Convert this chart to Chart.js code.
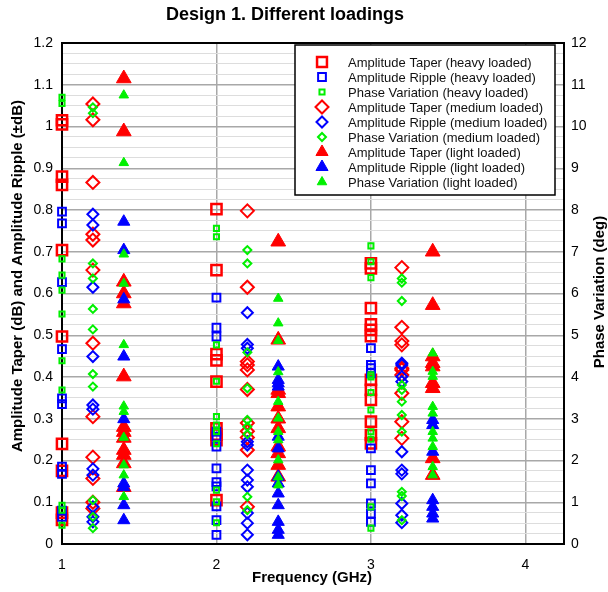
<!DOCTYPE html>
<html><head><meta charset="utf-8">
<script src="https://cdn.jsdelivr.net/npm/chart.js@4/dist/chart.umd.min.js"></script>
<style>html,body{margin:0;padding:0;background:#fff}#wrap{width:608px;height:592px}</style>
</head><body><div id="wrap"><canvas id="c" width="608" height="592"></canvas></div>
<script>
// Frequency positions (GHz) for each loading group
const freqHeavy = [1.0, 2.0, 3.0];
const freqMedium = [1.2, 2.2, 3.2];
const freqLight = [1.4, 2.4, 3.4];

// Values per frequency group: [1 GHz group, 2 GHz group, 3 GHz group]
const taperHeavy = [
  [1.015, 1.005, 0.88, 0.86, 0.704, 0.497, 0.24, 0.175, 0.075, 0.058],
  [0.802, 0.656, 0.455, 0.44, 0.389, 0.277, 0.262, 0.249, 0.105],
  [0.672, 0.66, 0.565, 0.526, 0.513, 0.498, 0.393, 0.369, 0.345, 0.293, 0.261, 0.241]
];
const rippleHeavy = [
  [0.796, 0.768, 0.627, 0.467, 0.349, 0.335, 0.185, 0.168, 0.08, 0.065],
  [0.59, 0.518, 0.497, 0.269, 0.257, 0.233, 0.181, 0.148, 0.138, 0.09, 0.057, 0.022],
  [0.469, 0.429, 0.421, 0.409, 0.229, 0.177, 0.145, 0.097, 0.073, 0.053]
];
const phaseHeavy = [
  [10.7, 10.55, 6.83, 6.44, 6.08, 5.51, 4.39, 3.69, 0.93, 0.81, 0.45],
  [7.56, 7.36, 4.77, 3.9, 3.05, 2.85, 2.69, 2.4, 1.29, 1.01, 0.51],
  [7.14, 6.76, 6.38, 4.05, 4.0, 3.63, 3.21, 2.69, 2.51, 0.89, 0.38]
];
const taperMedium = [
  [1.054, 1.016, 0.866, 0.742, 0.728, 0.656, 0.481, 0.305, 0.208, 0.157, 0.1, 0.085],
  [0.798, 0.615, 0.437, 0.429, 0.417, 0.37, 0.29, 0.27, 0.255, 0.225, 0.089],
  [0.662, 0.519, 0.486, 0.477, 0.421, 0.417, 0.405, 0.361, 0.293, 0.253]
];
const rippleMedium = [
  [0.79, 0.764, 0.615, 0.449, 0.333, 0.323, 0.18, 0.165, 0.089, 0.065, 0.053],
  [0.554, 0.478, 0.469, 0.245, 0.237, 0.177, 0.153, 0.137, 0.074, 0.05, 0.022],
  [0.433, 0.429, 0.401, 0.389, 0.221, 0.177, 0.168, 0.097, 0.069, 0.051]
];
const phaseMedium = [
  [10.46, 10.32, 6.72, 6.36, 5.63, 5.14, 4.07, 3.77, 1.05, 0.65, 0.38],
  [7.04, 6.72, 4.59, 3.73, 2.97, 2.81, 2.63, 1.13, 0.81],
  [6.36, 6.26, 5.82, 3.81, 3.69, 3.41, 3.09, 2.69, 1.25, 1.15, 0.57]
];
const taperLight = [
  [1.115, 0.988, 0.628, 0.6, 0.576, 0.401, 0.28, 0.268, 0.254, 0.225, 0.213, 0.193, 0.136],
  [0.724, 0.489, 0.369, 0.361, 0.329, 0.30, 0.277, 0.233, 0.217, 0.189, 0.161],
  [0.7, 0.572, 0.449, 0.433, 0.425, 0.385, 0.373, 0.205, 0.165]
];
const rippleLight = [
  [0.772, 0.704, 0.586, 0.449, 0.299, 0.145, 0.136, 0.093, 0.057],
  [0.425, 0.393, 0.385, 0.377, 0.257, 0.229, 0.161, 0.145, 0.121, 0.093, 0.053, 0.034, 0.022],
  [0.297, 0.285, 0.221, 0.105, 0.089, 0.073, 0.061]
];
const phaseLight = [
  [10.75, 9.13, 6.94, 6.24, 4.77, 3.3, 3.17, 2.55, 1.89, 1.65, 1.13],
  [5.88, 5.29, 4.87, 4.12, 3.41, 3.01, 2.69, 2.49, 2.01, 1.6, 1.41],
  [4.57, 4.13, 4.01, 3.29, 3.13, 2.69, 2.53, 2.33, 1.85, 1.65]
];

const seriesLabels = [
  'Amplitude Taper (heavy loaded)', 'Amplitude Ripple (heavy loaded)', 'Phase Variation (heavy loaded)',
  'Amplitude Taper (medium loaded)', 'Amplitude Ripple (medium loaded)', 'Phase Variation (medium loaded)',
  'Amplitude Taper (light loaded)', 'Amplitude Ripple (light loaded)', 'Phase Variation (light loaded)'
];

const RED = '#ff0000', BLUE = '#0000ff', GREEN = '#00f000';
const FONT = "'Liberation Sans', Arial, sans-serif";

function pts(freqs, groups) {
  const out = [];
  groups.forEach((g, i) => g.forEach(v => out.push({x: freqs[i], y: v})));
  return out;
}

const specs = [
  {data: pts(freqHeavy, taperHeavy), axis: 'y', color: RED, style: 'rect', r: 7.2, bw: 2.5, fill: false},
  {data: pts(freqHeavy, rippleHeavy), axis: 'y', color: BLUE, style: 'rect', r: 5.5, bw: 2, fill: false},
  {data: pts(freqHeavy, phaseHeavy), axis: 'y2', color: GREEN, style: 'rect', r: 3.6, bw: 2, fill: false},
  {data: pts(freqMedium, taperMedium), axis: 'y', color: RED, style: 'rectRot', r: 6.5, bw: 2, fill: false},
  {data: pts(freqMedium, rippleMedium), axis: 'y', color: BLUE, style: 'rectRot', r: 5.5, bw: 2, fill: false},
  {data: pts(freqMedium, phaseMedium), axis: 'y2', color: GREEN, style: 'rectRot', r: 4, bw: 2, fill: false},
  {data: pts(freqLight, taperLight), axis: 'y', color: RED, style: 'triangle', r: 8.5, bw: 1, fill: true},
  {data: pts(freqLight, rippleLight), axis: 'y', color: BLUE, style: 'triangle', r: 7, bw: 1, fill: true},
  {data: pts(freqLight, phaseLight), axis: 'y2', color: GREEN, style: 'triangle', r: 5.5, bw: 1, fill: true}
];

const datasets = specs.map((s, i) => ({
  label: seriesLabels[i],
  data: s.data,
  yAxisID: s.axis,
  pointStyle: s.style,
  pointRadius: s.r,
  pointHoverRadius: s.r,
  pointBorderWidth: s.bw,
  borderColor: s.color,
  backgroundColor: s.fill ? s.color : 'rgba(0,0,0,0)',
  order: 8 - i,
  clip: false
}));

function isMajor(v) { return Math.abs(v * 10 - Math.round(v * 10)) < 1e-6; }

const decor = {
  id: 'decor',
  beforeDatasetsDraw(chart) {
    const a = chart.chartArea, ctx = chart.ctx;
    ctx.save();
    ctx.strokeStyle = '#000';
    ctx.lineWidth = 2;
    ctx.strokeRect(a.left, a.top, a.right - a.left, a.bottom - a.top);
    ctx.restore();
  },
  afterDraw(chart) {
    const ctx = chart.ctx;
    ctx.save();
    ctx.fillStyle = '#000';
    ctx.font = 'bold 18px ' + FONT;
    ctx.textAlign = 'center';
    ctx.textBaseline = 'middle';
    ctx.fillText('Design 1. Different loadings', 285, 15);
    ctx.font = 'bold 15px ' + FONT;
    ctx.fillText('Frequency (GHz)', 312, 578);
    ctx.save();
    ctx.translate(18, 276);
    ctx.rotate(-Math.PI / 2);
    ctx.fillText('Amplitude Taper (dB) and Amplitude Ripple (\u00b1dB)', 0, 0);
    ctx.restore();
    ctx.save();
    ctx.translate(600, 292);
    ctx.rotate(-Math.PI / 2);
    ctx.fillText('Phase Variation (deg)', 0, 0);
    ctx.restore();
    // Legend
    const lx = 295, ly = 45, lw = 260, lh = 150;
    ctx.fillStyle = '#fff';
    ctx.fillRect(lx, ly, lw, lh);
    ctx.strokeStyle = '#000';
    ctx.lineWidth = 1.5;
    ctx.strokeRect(lx, ly, lw, lh);
    ctx.font = '13px ' + FONT;
    ctx.textAlign = 'left';
    ctx.textBaseline = 'middle';
    specs.forEach((s, i) => {
      const y = 62 + i * 15;
      const r = Math.min(s.r, 7);
      ctx.strokeStyle = s.color;
      ctx.fillStyle = s.fill ? s.color : 'rgba(0,0,0,0)';
      ctx.lineWidth = s.bw;
      Chart.helpers.drawPoint(ctx, {pointStyle: s.style, radius: r, rotation: 0, borderWidth: s.bw}, 322, y);
      ctx.fillStyle = '#111';
      ctx.fillText(seriesLabels[i], 348, y + 1);
    });
    ctx.restore();
  }
};

new Chart(document.getElementById('c'), {
  type: 'scatter',
  data: {datasets},
  options: {
    responsive: false,
    animation: false,
    events: [],
    layout: {padding: {top: 43, left: 0, right: 0, bottom: 0}},
    plugins: {legend: {display: false}, title: {display: false}, tooltip: {enabled: false}},
    scales: {
      x: {
        type: 'linear', min: 1, max: 4.25,
        afterFit(s) { s.height = 48; },
        border: {display: false},
        ticks: {stepSize: 1, includeBounds: false, padding: 13, color: '#000',
          font: {family: FONT, size: 14}, callback: v => String(v)},
        grid: {drawTicks: false,
          color: c => (c.tick && c.tick.value > 1.5) ? '#a8a8a8' : 'rgba(0,0,0,0)',
          lineWidth: 1.5}
      },
      y: {
        type: 'linear', position: 'left', min: 0, max: 1.2,
        afterFit(s) { s.width = 62; },
        border: {display: false},
        ticks: {stepSize: 0.025, autoSkip: false, padding: 9, color: '#000',
          font: {family: FONT, size: 14},
          callback: v => isMajor(v) ? String(Math.round(v * 10) / 10) : ''},
        grid: {drawTicks: false,
          color: c => isMajor(c.tick.value) ? '#a8a8a8' : '#dddddd',
          lineWidth: c => isMajor(c.tick.value) ? 1.5 : 1}
      },
      y2: {
        type: 'linear', position: 'right', min: 0, max: 12,
        afterFit(s) { s.width = 44; },
        border: {display: false},
        ticks: {stepSize: 1, padding: 7, color: '#000', font: {family: FONT, size: 14}},
        grid: {drawOnChartArea: false, drawTicks: false}
      }
    }
  },
  plugins: [decor]
});
</script>
</body></html>
